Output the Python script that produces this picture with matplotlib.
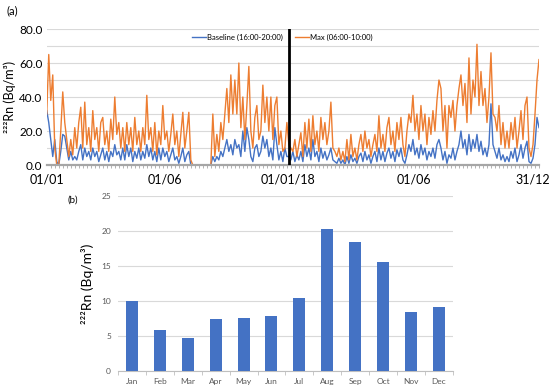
import numpy as np
import matplotlib
matplotlib.use('Agg')
import matplotlib.pyplot as plt
from matplotlib.ticker import MultipleLocator, FormatStrFormatter

plt.rcParams['font.family'] = ['Lato', 'DejaVu Sans']

# --- DATA (~3-day samples) ---
max_2017 = [30, 65, 38, 53, 10, 0, 0, 20, 43, 25, 15, 5, 15, 6, 22, 10, 25, 34, 10, 37,
            12, 22, 8, 32, 15, 22, 8, 25, 28, 12, 20, 8, 27, 15, 40, 18, 25, 10, 22, 8,
            25, 12, 22, 8, 28, 12, 20, 8, 22, 12, 41, 15, 22, 8, 25, 6, 20, 12, 35, 15,
            20, 8, 18, 30, 12, 20, 5, 18, 31, 10, 20, 31, 3, 0, 0, 0, 0, 0, 0, 0,
            0, 0, 0, 30, 5, 18, 8, 25, 15, 30, 45, 25, 53, 30, 50, 30, 60, 22, 40, 15,
            35, 58, 20, 10, 28, 35, 15, 20, 47, 25, 40, 20, 40, 15, 35, 40, 12, 20, 8, 10,
            25]
base_2017 = [32, 25, 15, 5, 15, 2, 0, 8, 18, 17, 10, 3, 8, 3, 5, 3, 8, 12, 3, 10,
             5, 8, 3, 10, 5, 8, 2, 6, 10, 3, 8, 2, 8, 5, 12, 6, 8, 3, 10, 3,
             12, 5, 10, 2, 8, 4, 10, 3, 8, 4, 12, 5, 10, 3, 8, 2, 10, 3, 10, 5,
             8, 2, 6, 10, 3, 5, 1, 5, 10, 2, 6, 8, 0, 0, 0, 0, 0, 0, 0, 0,
             0, 0, 0, 5, 2, 5, 3, 8, 5, 10, 15, 8, 12, 6, 15, 10, 12, 5, 20, 8,
             22, 15, 5, 2, 10, 12, 5, 8, 17, 10, 15, 5, 10, 3, 22, 12, 3, 8, 2, 10,
             5]
max_2018 = [12, 10, 8, 15, 5, 12, 19, 5, 25, 10, 27, 8, 29, 12, 20, 8, 28, 15, 25, 12,
            20, 37, 10, 8, 5, 10, 3, 8, 2, 15, 3, 18, 5, 10, 3, 12, 18, 8, 20, 10,
            15, 5, 12, 18, 8, 29, 10, 18, 8, 22, 28, 12, 20, 8, 25, 15, 28, 12, 5, 20,
            30, 25, 41, 20, 30, 15, 35, 20, 30, 12, 28, 18, 32, 20, 38, 50, 45, 20, 35, 10,
            35, 28, 38, 20, 35, 45, 53, 35, 48, 25, 63, 30, 50, 40, 71, 35, 55, 35, 45, 25,
            40, 66, 30, 28, 20, 35, 12, 25, 10, 20, 10, 25, 15, 28, 10, 20, 32, 15, 35, 40,
            10, 5, 12, 30, 50, 62]
base_2018 = [5, 3, 8, 2, 6, 3, 8, 2, 12, 5, 10, 3, 15, 5, 8, 2, 10, 4, 8, 3,
             6, 10, 3, 2, 1, 4, 1, 3, 0, 5, 1, 6, 2, 4, 1, 5, 7, 2, 8, 3,
             6, 1, 5, 8, 2, 10, 3, 8, 2, 7, 10, 4, 8, 2, 9, 5, 10, 3, 1, 6,
             12, 8, 15, 6, 10, 4, 12, 6, 10, 3, 8, 5, 10, 4, 12, 15, 10, 3, 8, 1,
             6, 4, 10, 3, 8, 12, 20, 10, 15, 6, 18, 8, 15, 10, 18, 8, 14, 6, 10, 5,
             12, 36, 12, 8, 4, 10, 3, 6, 2, 5, 2, 8, 4, 10, 2, 6, 12, 4, 10, 14,
             2, 1, 4, 12, 28, 22]

STEP_DAYS = 3
YEAR_SPLIT = 363
tick_days = [0, 177, 362, 551, 728]
tick_labels = ['01/01', '01/06', '01/01/18', '01/06', '31/12']

months = ['Jan', 'Feb', 'Mar', 'Apr', 'May', 'Jun', 'Jul', 'Aug', 'Sep', 'Oct', 'Nov', 'Dec']
monthly_mean = [10.0, 5.8, 4.7, 7.5, 7.6, 7.9, 10.5, 20.3, 18.5, 15.6, 8.4, 9.2]

BLUE = '#4472C4'
ORANGE = '#ED7D31'
GRID = '#D9D9D9'

days = np.concatenate([np.arange(len(max_2017)) * STEP_DAYS,
                       YEAR_SPLIT + np.arange(len(max_2018)) * STEP_DAYS])
max_all = np.array(max_2017 + max_2018, dtype=float)
days_b = np.concatenate([np.arange(len(base_2017)) * STEP_DAYS,
                         YEAR_SPLIT + np.arange(len(base_2018)) * STEP_DAYS])
base_all = np.array(base_2017 + base_2018, dtype=float)

fig = plt.figure(figsize=(5.5, 3.92), dpi=100)

# ---------------- (a) time series ----------------
ax1 = fig.add_axes([0.085, 0.579, 0.895, 0.347])
ax1.plot(days_b, base_all, color=BLUE, lw=1.0, label='Baseline (16:00-20:00)')
ax1.plot(days, max_all, color=ORANGE, lw=1.0, label='Max (06:00-10:00)')
ax1.axvline(YEAR_SPLIT, color='black', lw=2.0, zorder=5)

ax1.set_xlim(0, 738)
ax1.set_ylim(0, 80)
ax1.yaxis.set_major_locator(MultipleLocator(20))
ax1.yaxis.set_minor_locator(MultipleLocator(10))
ax1.yaxis.set_major_formatter(FormatStrFormatter('%.1f'))
ax1.grid(True, which='both', axis='y', color=GRID, lw=0.8)
ax1.set_axisbelow(True)
ax1.set_xticks(tick_days)
ax1.set_xticklabels(tick_labels)
ax1.xaxis.set_minor_locator(MultipleLocator(6))
ax1.tick_params(axis='x', which='major', length=0, labelsize=9, pad=6)
ax1.tick_params(axis='x', which='minor', length=2, color='#A6A6A6', width=0.6)
ax1.tick_params(axis='y', which='both', length=0, labelsize=8.5, pad=3)
for s in ['top', 'right', 'left']:
    ax1.spines[s].set_visible(False)
ax1.spines['bottom'].set_color('#A6A6A6')
ax1.spines['bottom'].set_linewidth(1.6)
ax1.set_ylabel('²²²Rn (Bq/m³)', fontsize=9)
ax1.yaxis.set_label_coords(-0.062, 0.5)
ax1.legend(loc='center', bbox_to_anchor=(0.479, 0.94), ncol=2, frameon=False,
           fontsize=5.5, handlelength=1.8, handletextpad=0.15, columnspacing=1.6)

fig.text(0.012, 0.972, '(a)', fontsize=8, va='center')

# ---------------- (b) monthly means ----------------
ax2 = fig.add_axes([0.2145, 0.0536, 0.609, 0.446])
pos = np.arange(len(months))
ax2.bar(pos, monthly_mean, width=0.43, color=BLUE, zorder=3)
ax2.set_xlim(-0.5, len(months) - 0.5)
ax2.set_ylim(0, 25)
ax2.yaxis.set_major_locator(MultipleLocator(5))
ax2.grid(True, axis='y', color=GRID, lw=0.8)
ax2.set_xticks(pos)
ax2.set_xticklabels(months)
ax2.set_xticks(np.arange(len(months) + 1) - 0.5, minor=True)
ax2.tick_params(axis='x', which='major', length=0, labelsize=6, colors='#595959', pad=5)
ax2.tick_params(axis='x', which='minor', length=3, color='#BFBFBF')
ax2.tick_params(axis='y', length=0, labelsize=6, colors='#595959', pad=5)
for s in ['top', 'right', 'left']:
    ax2.spines[s].set_visible(False)
ax2.spines['bottom'].set_color('#BFBFBF')
ax2.set_ylabel('²²²Rn (Bq/m³)', fontsize=10)
ax2.yaxis.set_label_coords(-0.072, 0.5)

fig.text(0.122, 0.49, '(b)', fontsize=7, va='center')

fig.savefig('out.png', dpi=100)
